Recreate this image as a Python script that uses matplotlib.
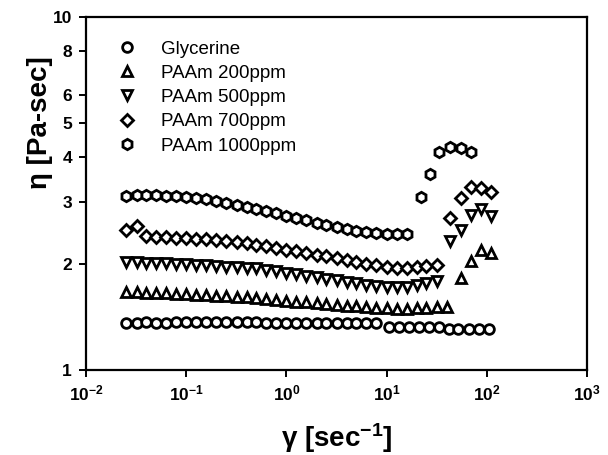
import matplotlib
matplotlib.use("Agg")
import matplotlib.pyplot as plt
from matplotlib.ticker import FixedLocator, FixedFormatter, LogLocator, NullLocator

# Shear rate grid for the low shear part (sec^-1)
x_low = [0.025, 0.032, 0.040, 0.050, 0.063, 0.079, 0.10, 0.126, 0.158, 0.20,
         0.25, 0.32, 0.40, 0.50, 0.63, 0.79, 1.0, 1.26, 1.58, 2.0,
         2.5, 3.2, 4.0, 5.0, 6.3, 7.9, 10, 12.6, 15.8, 20,
         25, 32, 40]

# Glycerine
gly_x_high = [10.5, 13.2, 16.6, 20.9, 26.3, 33, 42, 52, 66, 83, 105]
gly_low = [1.36, 1.36, 1.37, 1.36, 1.36, 1.37, 1.37, 1.37, 1.37, 1.37,
           1.37, 1.37, 1.37, 1.37, 1.36, 1.36, 1.36, 1.36, 1.36, 1.36,
           1.36, 1.36, 1.36, 1.36, 1.36, 1.36]
gly_high = [1.32, 1.32, 1.32, 1.32, 1.32, 1.32, 1.31, 1.31, 1.31, 1.31, 1.31]

# PAAm 200ppm
p200_low = [1.66, 1.66, 1.65, 1.65, 1.65, 1.64, 1.64, 1.63, 1.63, 1.62,
            1.62, 1.61, 1.61, 1.60, 1.59, 1.58, 1.57, 1.56, 1.56, 1.55,
            1.54, 1.53, 1.52, 1.52, 1.51, 1.50, 1.50, 1.49, 1.49, 1.50,
            1.50, 1.51, 1.51]
p200_x_high = [55, 69, 87, 110]
p200_high = [1.82, 2.04, 2.19, 2.14]

# PAAm 500ppm
p500_low = [2.02, 2.02, 2.01, 2.01, 2.01, 2.00, 2.00, 1.98, 1.98, 1.97,
            1.96, 1.96, 1.95, 1.95, 1.92, 1.91, 1.88, 1.87, 1.85, 1.83,
            1.81, 1.80, 1.78, 1.76, 1.74, 1.73, 1.72, 1.72, 1.72, 1.74,
            1.76, 1.79]
p500_x_high = [43, 55, 69, 87, 110]
p500_high = [2.32, 2.49, 2.75, 2.86, 2.73]

# PAAm 700ppm
p700_low = [2.49, 2.56, 2.40, 2.38, 2.38, 2.37, 2.37, 2.35, 2.35, 2.33,
            2.32, 2.30, 2.29, 2.26, 2.25, 2.22, 2.19, 2.17, 2.15, 2.12,
            2.10, 2.08, 2.05, 2.02, 2.00, 1.98, 1.96, 1.95, 1.95, 1.96,
            1.97, 1.98]
p700_x_high = [43, 55, 69, 87, 110]
p700_high = [2.70, 3.07, 3.30, 3.28, 3.19]

# PAAm 1000ppm
p1000_low = [3.11, 3.13, 3.13, 3.13, 3.11, 3.11, 3.09, 3.07, 3.05, 3.01,
             2.97, 2.93, 2.90, 2.86, 2.82, 2.79, 2.73, 2.70, 2.66, 2.61,
             2.58, 2.54, 2.51, 2.48, 2.46, 2.44, 2.43, 2.43, 2.43]
p1000_x_high = [22, 27, 33, 43, 55, 70]
p1000_high = [3.09, 3.59, 4.15, 4.28, 4.25, 4.15]

labels = ["Glycerine", "PAAm 200ppm", "PAAm 500ppm", "PAAm 700ppm", "PAAm 1000ppm"]
y_ticks = [1, 2, 3, 4, 5, 6, 8, 10]


def main():
    plt.rcParams['font.family'] = ['Liberation Sans', 'DejaVu Sans']
    plt.rcParams['mathtext.fontset'] = 'custom'
    plt.rcParams['mathtext.rm'] = 'Liberation Sans'
    plt.rcParams['mathtext.bf'] = 'Liberation Sans:bold'
    plt.rcParams['mathtext.default'] = 'bf'

    fig = plt.figure(figsize=(6.08, 4.55), dpi=100)
    ax = fig.add_axes([0.1414, 0.1868, 0.8241, 0.7758])

    series = [
        (x_low[:len(gly_low)] + gly_x_high, gly_low + gly_high, 'o', 7),
        (x_low[:len(p200_low)] + p200_x_high, p200_low + p200_high, '^', 7.5),
        (x_low[:len(p500_low)] + p500_x_high, p500_low + p500_high, 'v', 7.5),
        (x_low[:len(p700_low)] + p700_x_high, p700_low + p700_high, 'D', 6),
        (x_low[:len(p1000_low)] + p1000_x_high, p1000_low + p1000_high, 'h', 7.5),
    ]

    for (xs, ys, mk, ms), lab in zip(series, labels):
        ax.plot(xs, ys, linestyle='none', marker=mk, markersize=ms,
                markerfacecolor='white', markeredgecolor='black',
                markeredgewidth=2.0, label=lab)

    ax.set_xscale('log')
    ax.set_yscale('log')
    ax.set_xlim(1e-2, 1e3)
    ax.set_ylim(1, 10)

    ax.xaxis.set_major_locator(LogLocator(base=10, numticks=10))
    ax.xaxis.set_minor_locator(NullLocator())
    ax.yaxis.set_major_locator(FixedLocator(y_ticks))
    ax.yaxis.set_major_formatter(FixedFormatter([str(t) for t in y_ticks]))
    ax.yaxis.set_minor_locator(NullLocator())

    for sp in ax.spines.values():
        sp.set_linewidth(1.6)
    ax.tick_params(direction='out', length=5, width=1.4, top=False, right=False,
                   labelsize=12.5)
    ax.tick_params(axis='x', pad=5)
    ax.tick_params(axis='y', pad=5)
    for lbl in ax.get_xticklabels() + ax.get_yticklabels():
        lbl.set_fontweight('bold')

    # y label sits above the middle of the axis in the original figure
    ax.set_ylabel("η [Pa-sec]", fontsize=20, fontweight='bold')
    ax.yaxis.set_label_coords(-0.065, 0.70)
    ax.set_xlabel(r"γ [sec$^{-1}$]", fontsize=20, fontweight='bold')
    ax.xaxis.set_label_coords(0.5, -0.145)

    ax.legend(loc='upper left', bbox_to_anchor=(0.048, 0.955), frameon=False,
              fontsize=13.5, handlelength=1.0, handletextpad=1.3,
              labelspacing=0.38, borderaxespad=0)

    fig.savefig("out.png", dpi=100)


if __name__ == '__main__':
    main()
